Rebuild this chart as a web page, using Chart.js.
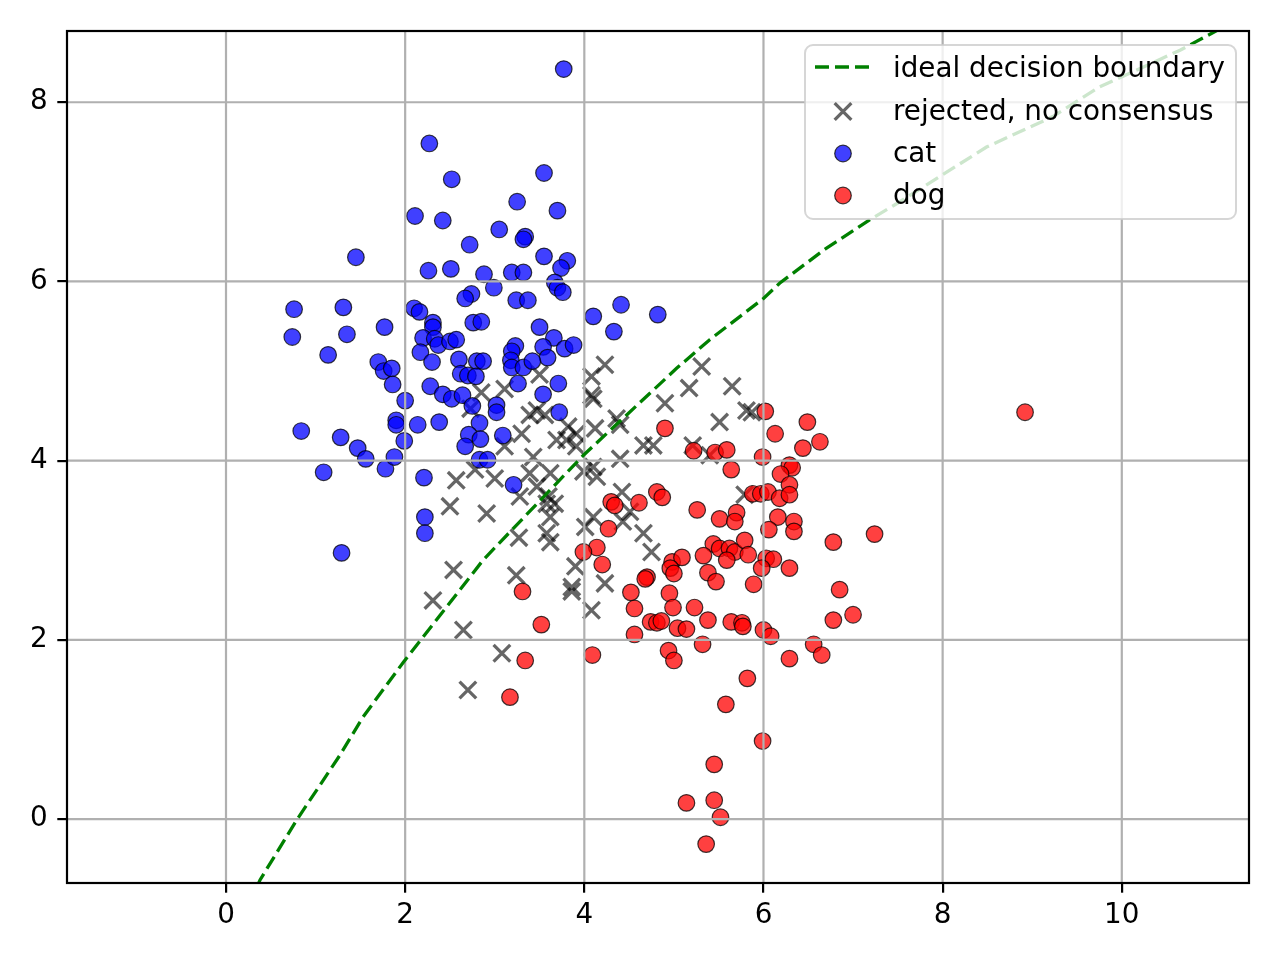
<!DOCTYPE html>
<html><head><meta charset="utf-8">
<script src="https://cdn.jsdelivr.net/npm/chart.js@4.4.1/dist/chart.umd.min.js"></script>
<style>html,body{margin:0;padding:0;background:#fff}canvas{display:block}</style>
</head><body>
<canvas id="c" width="1280" height="960"></canvas>
<script>
// ---- data ----
const xTicks = [0, 2, 4, 6, 8, 10];
const yTicks = [0, 2, 4, 6, 8];
const xRange = [-1.775, 11.42];
const yRange = [-0.714, 8.795];
const seriesLabels = ['ideal decision boundary', 'rejected, no consensus', 'cat', 'dog'];

const boundaryX = [0.35, 0.38, 0.79, 1.27, 1.53, 1.98, 2.87, 3.08, 3.99, 5.03, 5.40, 6.00, 6.18, 6.70, 7.19, 7.49, 8.49, 9.23, 9.75, 10.65, 11.06, 11.5];
const boundaryY = [-0.75, -0.68, -0.01, 0.71, 1.14, 1.75, 2.89, 3.11, 4.06, 5.03, 5.35, 5.81, 5.98, 6.37, 6.69, 6.87, 7.50, 7.84, 8.17, 8.58, 8.8, 9.05];

const rejectedX = [3.50,3.11,2.85,2.73,3.39,3.47,3.56,4.23,4.08,4.08,4.10,4.90,4.36,4.40,4.12,3.82,3.91,3.30,3.11,3.69,3.80,3.91,4.66,4.77,4.40,3.43,4.10,4.14,2.78,2.57,3.00,3.39,3.62,3.47,3.60,3.28,3.67,3.58,3.62,2.50,2.91,4.42,4.43,4.10,4.01,4.66,3.27,3.58,3.62,2.54,3.24,3.90,3.86,3.86,4.23,4.08,2.31,2.65,3.08,2.70,4.75,5.31,5.17,5.65,5.51,5.81,5.87,5.21,5.40,5.79,4.51,3.99];
const rejectedY = [4.96,4.80,4.76,4.58,4.51,4.56,4.51,5.07,4.94,4.73,4.69,4.64,4.47,4.40,4.36,4.38,4.30,4.30,4.16,4.23,4.23,4.16,4.17,4.17,4.02,4.04,3.93,3.82,3.90,3.78,3.80,3.86,3.86,3.71,3.60,3.60,3.52,3.52,3.37,3.49,3.41,3.65,3.32,3.37,3.26,3.19,3.14,3.19,3.09,2.78,2.72,2.82,2.59,2.54,2.63,2.33,2.44,2.11,1.85,1.44,2.98,5.05,4.81,4.83,4.43,4.56,4.54,4.17,4.06,3.62,3.43,3.88];

const catX = [3.77,2.27,2.52,3.55,3.25,3.70,2.11,2.42,3.05,3.34,3.32,2.72,1.45,3.55,3.81,3.74,2.26,2.51,2.88,3.19,3.32,3.67,3.70,3.76,2.99,2.74,2.67,3.24,3.37,0.76,1.31,0.74,1.35,1.77,1.14,2.10,2.16,2.31,2.31,2.20,2.33,2.37,2.50,2.57,2.76,2.85,2.17,2.30,2.60,2.80,2.87,2.62,2.70,2.79,3.50,3.66,3.23,3.19,3.54,3.78,3.88,3.59,3.18,3.19,3.32,3.42,3.26,3.71,3.54,3.72,1.70,1.76,1.85,1.86,2.00,2.28,2.42,2.52,2.64,2.75,2.83,3.02,3.02,1.90,1.90,2.14,2.38,0.84,1.28,1.47,1.56,1.78,1.88,1.99,2.71,2.84,2.67,3.09,2.83,2.92,1.09,2.21,3.21,2.22,2.22,1.29,4.10,4.33,4.41,4.82];
const catY = [8.37,7.54,7.14,7.21,6.89,6.79,6.73,6.68,6.58,6.50,6.47,6.41,6.27,6.28,6.23,6.15,6.12,6.14,6.08,6.10,6.10,5.99,5.93,5.88,5.93,5.86,5.81,5.79,5.79,5.69,5.71,5.38,5.41,5.49,5.18,5.70,5.66,5.54,5.49,5.37,5.36,5.29,5.33,5.35,5.54,5.55,5.21,5.10,5.13,5.11,5.11,4.97,4.95,4.94,5.49,5.37,5.28,5.22,5.27,5.25,5.29,5.15,5.12,5.04,5.04,5.11,4.86,4.86,4.74,4.54,5.10,5.00,5.03,4.85,4.67,4.83,4.74,4.69,4.73,4.61,4.42,4.62,4.54,4.45,4.40,4.40,4.43,4.33,4.26,4.14,4.02,3.91,4.04,4.22,4.29,4.24,4.16,4.28,4.01,4.01,3.87,3.81,3.73,3.37,3.19,2.97,5.61,5.44,5.74,5.63];

const dogX = [6.02,6.49,6.13,6.63,6.44,4.90,5.99,5.22,5.46,5.59,5.64,6.29,6.32,6.19,6.29,5.88,5.97,6.05,6.18,6.29,4.81,4.87,4.30,4.34,4.61,5.26,5.51,5.70,5.68,6.16,6.34,6.34,4.27,6.06,7.24,6.78,4.14,3.99,4.20,5.44,5.51,5.62,5.68,5.59,5.79,5.83,5.33,6.03,6.11,5.98,6.29,5.38,5.47,5.89,4.98,5.09,4.96,5.00,4.70,4.68,4.52,4.95,4.56,4.99,5.23,5.38,4.74,4.81,4.86,5.04,5.14,5.64,5.76,5.77,6.00,6.08,4.56,5.32,6.78,7.00,6.85,6.56,6.65,6.29,4.94,5.00,4.09,5.82,3.52,3.34,3.17,3.31,5.58,5.99,5.45,5.14,5.45,5.52,5.36,8.92];
const dogY = [4.55,4.43,4.30,4.21,4.14,4.36,4.04,4.11,4.09,4.12,3.90,3.95,3.92,3.85,3.73,3.63,3.63,3.65,3.58,3.62,3.65,3.59,3.54,3.50,3.53,3.45,3.35,3.42,3.32,3.37,3.32,3.21,3.24,3.23,3.18,3.09,3.03,2.98,2.84,3.07,3.02,3.02,2.98,2.89,3.11,2.95,2.94,2.91,2.90,2.80,2.80,2.75,2.65,2.62,2.87,2.92,2.80,2.74,2.70,2.68,2.53,2.52,2.35,2.36,2.36,2.22,2.20,2.19,2.21,2.13,2.12,2.20,2.19,2.15,2.11,2.04,2.06,1.95,2.22,2.28,2.56,1.95,1.83,1.79,1.88,1.77,1.83,1.57,2.17,1.77,1.36,2.54,1.28,0.87,0.61,0.18,0.21,0.02,-0.28,4.54];

// ---- styling ----
const FONT = "'DejaVu Sans', 'Liberation Sans', sans-serif";
const FS = 27.8;
const GREEN = '#008000';
const CROSS = 'rgba(0,0,0,0.6)';
const BLUE = 'rgba(0,0,255,0.75)';
const RED = 'rgba(255,0,0,0.75)';
const EDGE = 'rgba(0,0,0,0.75)';
const zip = (xs, ys) => xs.map((x, i) => ({x, y: ys[i]}));

Chart.defaults.font.family = FONT;
Chart.defaults.font.size = FS;
Chart.defaults.color = '#000';

function drawGrid(chart) {
  const {ctx, chartArea: a, scales: {x, y}} = chart;
  ctx.save();
  ctx.strokeStyle = '#b0b0b0';
  ctx.lineWidth = 2.2;
  ctx.beginPath();
  xTicks.forEach(v => { const p = x.getPixelForValue(v); ctx.moveTo(p, a.top); ctx.lineTo(p, a.bottom); });
  yTicks.forEach(v => { const p = y.getPixelForValue(v); ctx.moveTo(a.left, p); ctx.lineTo(a.right, p); });
  ctx.stroke();
  ctx.restore();
}

const framePlugin = {
  id: 'frameAndLegend',
  beforeDatasetDraw(chart, args) {
    if (args.index === 0) drawGrid(chart);
  },
  afterDatasetsDraw(chart) {
    const {ctx, chartArea: a} = chart;
    ctx.save();
    ctx.strokeStyle = '#000';
    ctx.lineWidth = 2.2;
    ctx.strokeRect(a.left, a.top, a.right - a.left, a.bottom - a.top);
    ctx.restore();
  },
  afterDraw(chart) {
    const ctx = chart.ctx;
    const ds = chart.data.datasets;
    const L = 805, T = 45, W = 431, H = 174, R = 8;
    ctx.save();
    ctx.beginPath();
    ctx.roundRect(L, T, W, H, R);
    ctx.fillStyle = 'rgba(255,255,255,0.8)';
    ctx.fill();
    ctx.strokeStyle = 'rgba(204,204,204,0.8)';
    ctx.lineWidth = 2;
    ctx.stroke();
    const rows = [67, 109.5, 151.5, 193.5];
    const hx = 843;
    ctx.beginPath();
    ctx.setLineDash(ds[0].borderDash);
    ctx.strokeStyle = ds[0].borderColor;
    ctx.lineWidth = ds[0].borderWidth;
    ctx.moveTo(815, rows[0]); ctx.lineTo(870, rows[0]);
    ctx.stroke();
    ctx.setLineDash([]);
    [ds[3], ds[2], ds[1]].forEach((d, i) => {
      const y = rows[i + 1] + 2;
      ctx.fillStyle = d.backgroundColor;
      ctx.strokeStyle = d.borderColor;
      ctx.lineWidth = d.borderWidth;
      Chart.helpers.drawPoint(ctx, {pointStyle: d.pointStyle, radius: d.pointRadius, rotation: 0, borderWidth: d.borderWidth}, hx, y);
    });
    ctx.fillStyle = '#000';
    ctx.font = FS + 'px ' + FONT;
    ctx.textBaseline = 'middle';
    ctx.textAlign = 'left';
    [ds[0], ds[3], ds[2], ds[1]].forEach((d, i) => ctx.fillText(d.label, 893, rows[i] + 3));
    ctx.restore();
  }
};

new Chart(document.getElementById('c'), {
  type: 'scatter',
  data: {
    datasets: [
      {type: 'line', label: seriesLabels[0], data: zip(boundaryX, boundaryY), showLine: true, fill: false,
       borderColor: GREEN, backgroundColor: GREEN, borderWidth: 3.3, borderDash: [14, 6], pointRadius: 0,
       tension: 0, order: 0, clip: 0},
      {label: seriesLabels[3], data: zip(dogX, dogY), pointStyle: 'circle', pointRadius: 8.3,
       backgroundColor: RED, borderColor: EDGE, borderWidth: 1.2, order: 1, clip: 0},
      {label: seriesLabels[2], data: zip(catX, catY), pointStyle: 'circle', pointRadius: 8.3,
       backgroundColor: BLUE, borderColor: EDGE, borderWidth: 1.2, order: 2, clip: 0},
      {label: seriesLabels[1], data: zip(rejectedX, rejectedY), pointStyle: 'crossRot', pointRadius: 11.8,
       backgroundColor: CROSS, borderColor: CROSS, borderWidth: 3.3, order: 3, clip: 0}
    ]
  },
  options: {
    responsive: false,
    animation: false,
    events: [],
    devicePixelRatio: 1,
    layout: {padding: {top: 31, right: 31, left: 0, bottom: 0}},
    plugins: {legend: {display: false}, tooltip: {enabled: false}},
    scales: {
      x: {
        type: 'linear', min: xRange[0], max: xRange[1],
        afterFit: s => { s.height = 77; },
        afterBuildTicks: s => { s.ticks = xTicks.map(v => ({value: v})); },
        ticks: {autoSkip: false, maxRotation: 0, padding: 6, color: '#000', font: {size: FS, family: FONT}},
        grid: {drawOnChartArea: false, drawTicks: true, tickLength: 9.7, color: '#000', lineWidth: 2.2},
        border: {display: false}
      },
      y: {
        type: 'linear', min: yRange[0], max: yRange[1],
        afterFit: s => { s.width = 67; },
        afterBuildTicks: s => { s.ticks = yTicks.map(v => ({value: v})); },
        ticks: {autoSkip: false, padding: 9.7, color: '#000', font: {size: FS, family: FONT}},
        grid: {drawOnChartArea: false, drawTicks: true, tickLength: 9.7, color: '#000', lineWidth: 2.2},
        border: {display: false}
      }
    }
  },
  plugins: [framePlugin]
});
</script>
</body></html>
